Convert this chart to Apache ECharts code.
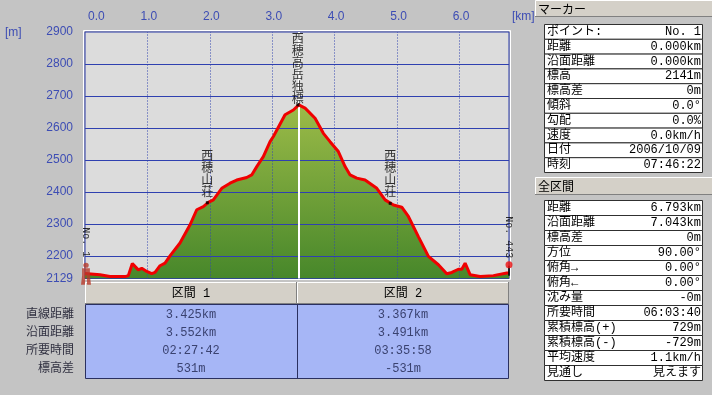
<!DOCTYPE html>
<html><head><meta charset="utf-8">
<script src="https://cdn.jsdelivr.net/npm/echarts@6/dist/echarts.min.js"></script>
<style>html,body{margin:0;padding:0;background:#c4c4c4;}#c{width:712px;height:395px;}</style>
</head><body><div id="c"></div>
<script>
// ---- data ----
const distanceKm = [0.000,0.240,0.401,0.641,0.694,0.758,0.801,0.854,0.909,0.989,1.069,1.122,1.202,1.282,1.362,1.522,1.683,1.790,1.896,1.976,2.056,2.191,2.324,2.431,2.591,2.671,2.752,2.857,2.965,3.018,3.205,3.338,3.425,3.526,3.686,3.819,3.926,4.059,4.167,4.247,4.354,4.487,4.675,4.808,4.941,5.075,5.181,5.341,5.502,5.662,5.796,5.877,5.982,6.037,6.090,6.170,6.330,6.543,6.758,6.793];
const elevationM = [2145,2141,2135,2135,2138,2176,2167,2156,2161,2151,2144,2148,2169,2177,2200,2240,2297,2344,2354,2367,2375,2411,2427,2437,2445,2453,2479,2510,2557,2573,2641,2656,2672,2662,2630,2583,2557,2526,2479,2453,2443,2437,2411,2375,2359,2352,2323,2260,2198,2172,2144,2148,2158,2158,2177,2141,2135,2138,2146,2146];
const xTickValues = [0,1,2,3,4,5,6];
const yTickValues = [2129,2200,2300,2400,2500,2600,2700,2800,2900];
const landmarkNames = ['西穂山荘','西穂高岳独標','西穂山荘'];
const landmarkKm = [1.96, 3.41, 4.89];
const landmarkElev = [2366, 2672, 2364];
const endpointNames = ['No. 1','No. 443'];
const endpointKm = [0, 6.793];
const endpointElev = [2141, 2141];
const sectionBoundaryKm = [3.425];
const sectionNames = ['区間 1','区間 2'];
const sectionRowLabels = ['直線距離','沿面距離','所要時間','標高差'];
const section1Values = ['3.425km','3.552km','02:27:42','531m'];
const section2Values = ['3.367km','3.491km','03:35:58','-531m'];
const markerTitle = 'マーカー';
const markerLabels = ['ポイント:','距離','沿面距離','標高','標高差','傾斜','勾配','速度','日付','時刻'];
const markerValues = ['No. 1','0.000km','0.000km','2141m','0m','0.0°','0.0%','0.0km/h','2006/10/09','07:46:22'];
const totalTitle = '全区間';
const totalLabels = ['距離','沿面距離','標高差','方位','俯角→','俯角←','沈み量','所要時間','累積標高(+)','累積標高(-)','平均速度','見通し'];
const totalValues = ['6.793km','7.043km','0m','90.00°','0.00°','0.00°','-0m','06:03:40','729m','-729m','1.1km/h','見えます'];

// ---- style ----
const FONT = "'Liberation Mono','Noto Sans CJK JP',monospace";
const SFONT = "'Liberation Sans','Noto Sans CJK JP',sans-serif";
const JFONT = "'Noto Sans CJK JP',sans-serif";
const AXIS_BLUE = '#3d4db4';
const GRID = {left:85, top:32, width:424, height:246.5};

const chart = echarts.init(document.getElementById('c'), null, {renderer:'canvas'});
const hiker = 'path://M5,0.5 A2.5,2.5 0 1,1 4.99,0.5 Z M1.5,6 L8.5,6 L8.5,13 L1.5,13 Z M1.5,13 L4.5,13 L4,22 L0.5,22 Z M5.5,13 L8.5,13 L9.5,22 L6,22 Z';

const graphics = [];
function rect(x,y,w,h,fill,stroke,lw){graphics.push({type:'rect',shape:{x,y,width:w,height:h},style:{fill:fill,stroke:stroke||null,lineWidth:lw||1},silent:true});}
function line(x1,y1,x2,y2,c){graphics.push({type:'line',shape:{x1,y1,x2,y2},style:{stroke:c,lineWidth:1},silent:true});}
function text(x,y,t,align,color,font,size){graphics.push({type:'text',x,y,style:{text:t,fill:color||'#000',font:(size||12)+'px '+(font||FONT),textAlign:align||'left',textVerticalAlign:'middle'},silent:true});}
function button(x,y,w,h){
  rect(x,y,w,h,'#d4d0c8');
  line(x+0.5,y+0.5,x+w,y+0.5,'#ffffff'); line(x+0.5,y+0.5,x+0.5,y+h,'#ffffff');
  line(x,y+h-0.5,x+w,y+h-0.5,'#808080'); line(x+w-0.5,y,x+w-0.5,y+h,'#808080');
}
// white frame around plot
graphics.push({type:'rect',shape:{x:83.5,y:30.5,width:427,height:249},style:{fill:null,stroke:'#ffffff',lineWidth:1},silent:true});
// axis units
text(5,33,'[m]','left',AXIS_BLUE,SFONT,12);
text(512,17,'[km]','left',AXIS_BLUE,SFONT,12);

// right panel: marker table
button(535,0,178,17); text(538,9,markerTitle,'left','#000',JFONT,12);
const t1Top=24,t1H=14.8;
markerLabels.forEach((l,i)=>{const y=t1Top+i*t1H; rect(544.5,y+0.5,158,t1H,'#ffffff','#303030'); text(547,y+t1H/2+0.5,l,'left','#000',FONT,12); text(701,y+t1H/2+0.5,markerValues[i],'right','#000',FONT,12);});
button(535,177,178,18); text(538,186,totalTitle,'left','#000',JFONT,12);
const t2Top=200,t2H=15;
totalLabels.forEach((l,i)=>{const y=t2Top+i*t2H; rect(544.5,y+0.5,158,t2H,'#ffffff','#303030'); text(547,y+t2H/2+0.5,l,'left','#000',FONT,12); text(701,y+t2H/2+0.5,totalValues[i],'right','#000',FONT,12);});

// bottom section table
const colX=[85,297], colW=[212,212];
sectionNames.forEach((n,i)=>{button(colX[i],282,colW[i],22); text(colX[i]+colW[i]/2,293.5,n,'center','#000',FONT,12);});
rect(85.5,304.5,423,74,'#a6b6f6','#2a3060');
line(297.5,304.5,297.5,378.5,'#2a3060');
sectionRowLabels.forEach((l,i)=>{const y=315+18*i; text(74,y,l,'right','#303040',FONT,12); text(191,y,section1Values[i],'center','#3a4270',FONT,12); text(403,y,section2Values[i],'center','#3a4270',FONT,12);});

const profile = distanceKm.map((d,i)=>[d,elevationM[i]]);
const gridLines = []
  .concat(xTickValues.slice(1).map(v=>({xAxis:v,lineStyle:{color:'#3344b0',type:[1,2],width:1}})))
  .concat(yTickValues.slice(1,-1).map(v=>({yAxis:v,lineStyle:{color:'#2f40b0',type:'solid',width:1}})))
  .concat(sectionBoundaryKm.map(v=>({xAxis:v,lineStyle:{color:'#ffffff',type:'solid',width:2}})));

chart.setOption({
  animation:false,
  backgroundColor:'#c4c4c4',
  grid:{left:GRID.left,top:GRID.top,width:GRID.width,height:GRID.height,show:true,backgroundColor:'#dcdcdc',borderColor:'#2838a8',borderWidth:1,containLabel:false},
  xAxis:{type:'value',position:'top',min:0,max:6.793,interval:1,
    axisLine:{show:false},axisTick:{show:false},
    axisLabel:{customValues:xTickValues,formatter:v=>v.toFixed(1),color:AXIS_BLUE,fontFamily:SFONT,fontSize:12,margin:9,alignMinLabel:'left',padding:[0,0,0,3]},
    splitLine:{show:false}},
  yAxis:{type:'value',min:2129,max:2900,interval:100,
    axisLine:{show:false},axisTick:{show:false},
    axisLabel:{customValues:yTickValues,formatter:v=>String(v),color:AXIS_BLUE,fontFamily:SFONT,fontSize:12,margin:12},
    splitLine:{show:false}},
  series:[
    {type:'line',data:profile,symbol:'none',z:1,
      lineStyle:{width:0,opacity:0},
      areaStyle:{color:new echarts.graphic.LinearGradient(0,0,0,1,[{offset:0,color:'#9cbb48'},{offset:1,color:'#47872a'}]),opacity:1}},
    {type:'line',data:[],z:2,symbol:'none',
      markLine:{z:2,silent:true,symbol:'none',label:{show:false},data:gridLines}},
    {type:'line',data:profile,symbol:'none',z:3,lineStyle:{color:'#f00000',width:3}},
    {type:'scatter',z:6,symbol:'rect',symbolSize:3,itemStyle:{color:'#000'},
      data:landmarkNames.map((n,i)=>({name:n,value:[landmarkKm[i],landmarkElev[i]],label:{distance:i===1?-1:4}})),
      label:{show:true,position:'top',formatter:p=>p.name.split('').join('\n'),fontFamily:JFONT,fontSize:12,lineHeight:12,color:'#000'}},
    {type:'scatter',z:6,
      data:[
        {name:endpointNames[0],value:[endpointKm[0],endpointElev[0]],symbol:hiker,symbolSize:[10,22],symbolOffset:[1,-1],itemStyle:{color:'#b83a2a'},label:{distance:5.5}},
        {name:endpointNames[1],value:[endpointKm[1],endpointElev[1]],symbol:'circle',symbolSize:7,symbolOffset:[0,-10],itemStyle:{color:'#ee1010'},label:{distance:3}}
      ],
      label:{show:true,position:'top',formatter:p=>p.name,rotate:-90,align:'right',verticalAlign:'middle',fontFamily:FONT,fontSize:10,color:'#000'}},
    {type:'scatter',z:5,symbol:'rect',symbolSize:[2,10],symbolOffset:[0,-4],itemStyle:{color:'#000'},
      data:[[endpointKm[1],endpointElev[1]]]}
  ],
  graphic:graphics
});
</script></body></html>
